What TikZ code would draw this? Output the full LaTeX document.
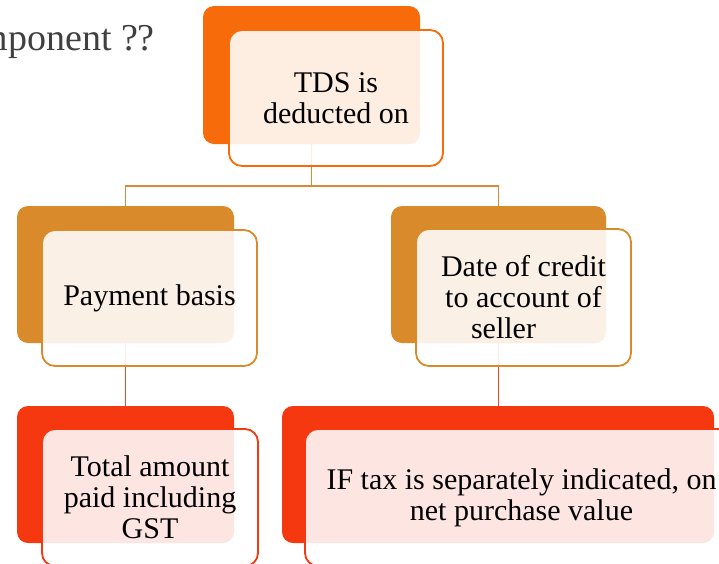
\documentclass[tikz,border=0pt]{standalone}
\usepackage{fontspec}
\setmainfont{Liberation Serif}
\definecolor{cTop}{HTML}{F86B0B}
\definecolor{cMid}{HTML}{D98A2B}
\definecolor{cLow}{HTML}{F5380F}
\definecolor{cLinkA}{HTML}{D88A35}
\definecolor{cLinkB}{HTML}{EE4A25}
\definecolor{cTitle}{HTML}{404040}
\begin{document}
\begin{tikzpicture}[x=1pt,y=-1pt,
  backbox/.style={rectangle, rounded corners=11pt, inner sep=0pt, fill=#1},
  frontbox/.style={rectangle, rounded corners=13pt, inner sep=0pt, draw=#1,
    line width=1.8pt, fill=white, fill opacity=0.88, text opacity=1,
    font=\fontsize{30}{31}\selectfont, align=center},
  linkA/.style={draw=cLinkA, line width=1.5pt},
  linkB/.style={draw=cLinkB, line width=1.5pt}
  ]
\useasboundingbox (0,0) rectangle (719,563);
\clip (0,0) rectangle (719,563);

% title fragment
\node[anchor=base east, text=cTitle, font=\fontsize{38}{40}\selectfont, inner sep=0pt] (title) at (155,50) {mponent ??};

% back boxes
\node[backbox=cTop, minimum width=217pt, minimum height=138pt] (b1) at (311.5,75) {};
\node[backbox=cMid, minimum width=217pt, minimum height=137pt] (b2l) at (125.5,274.5) {};
\node[backbox=cMid, minimum width=215pt, minimum height=137pt] (b2r) at (498.5,274.5) {};
\node[backbox=cLow, minimum width=217pt, minimum height=137pt] (b3l) at (125.5,474.5) {};
\node[backbox=cLow, minimum width=432pt, minimum height=137pt] (b3r) at (498,474.5) {};

% connectors
\coordinate (j1) at (311.5,186);
\draw[linkA] (b1.south) -- (j1);
\draw[linkA] (b2l.north) |- (j1) -| (b2r.north);
\draw[linkB] (b2l.south) -- (b3l.north);
\draw[linkB] (b2r.south) -- (b2r.south |- b3r.north);

% front boxes
\node[frontbox=cTop, minimum width=214pt, minimum height=136pt] (f1) at (336,98) {TDS is\\deducted on};
\node[frontbox=cMid, minimum width=215pt, minimum height=136pt] (f2l) at (149.5,298) {Payment basis};
\node[frontbox=cMid, minimum width=215pt, minimum height=137pt] (f2r) at (523.5,297.5) {Date of credit\\to account of\\seller\kern40pt};
\node[frontbox=cLow, minimum width=216pt, minimum height=137pt] (f3l) at (150,497.5) {Total amount\\paid including\\GST};
\node[frontbox=cLow, minimum width=433pt, minimum height=137pt] (f3r) at (521.5,497.5) {IF tax is separately indicated, on\\net purchase value};
\end{tikzpicture}
\end{document}
